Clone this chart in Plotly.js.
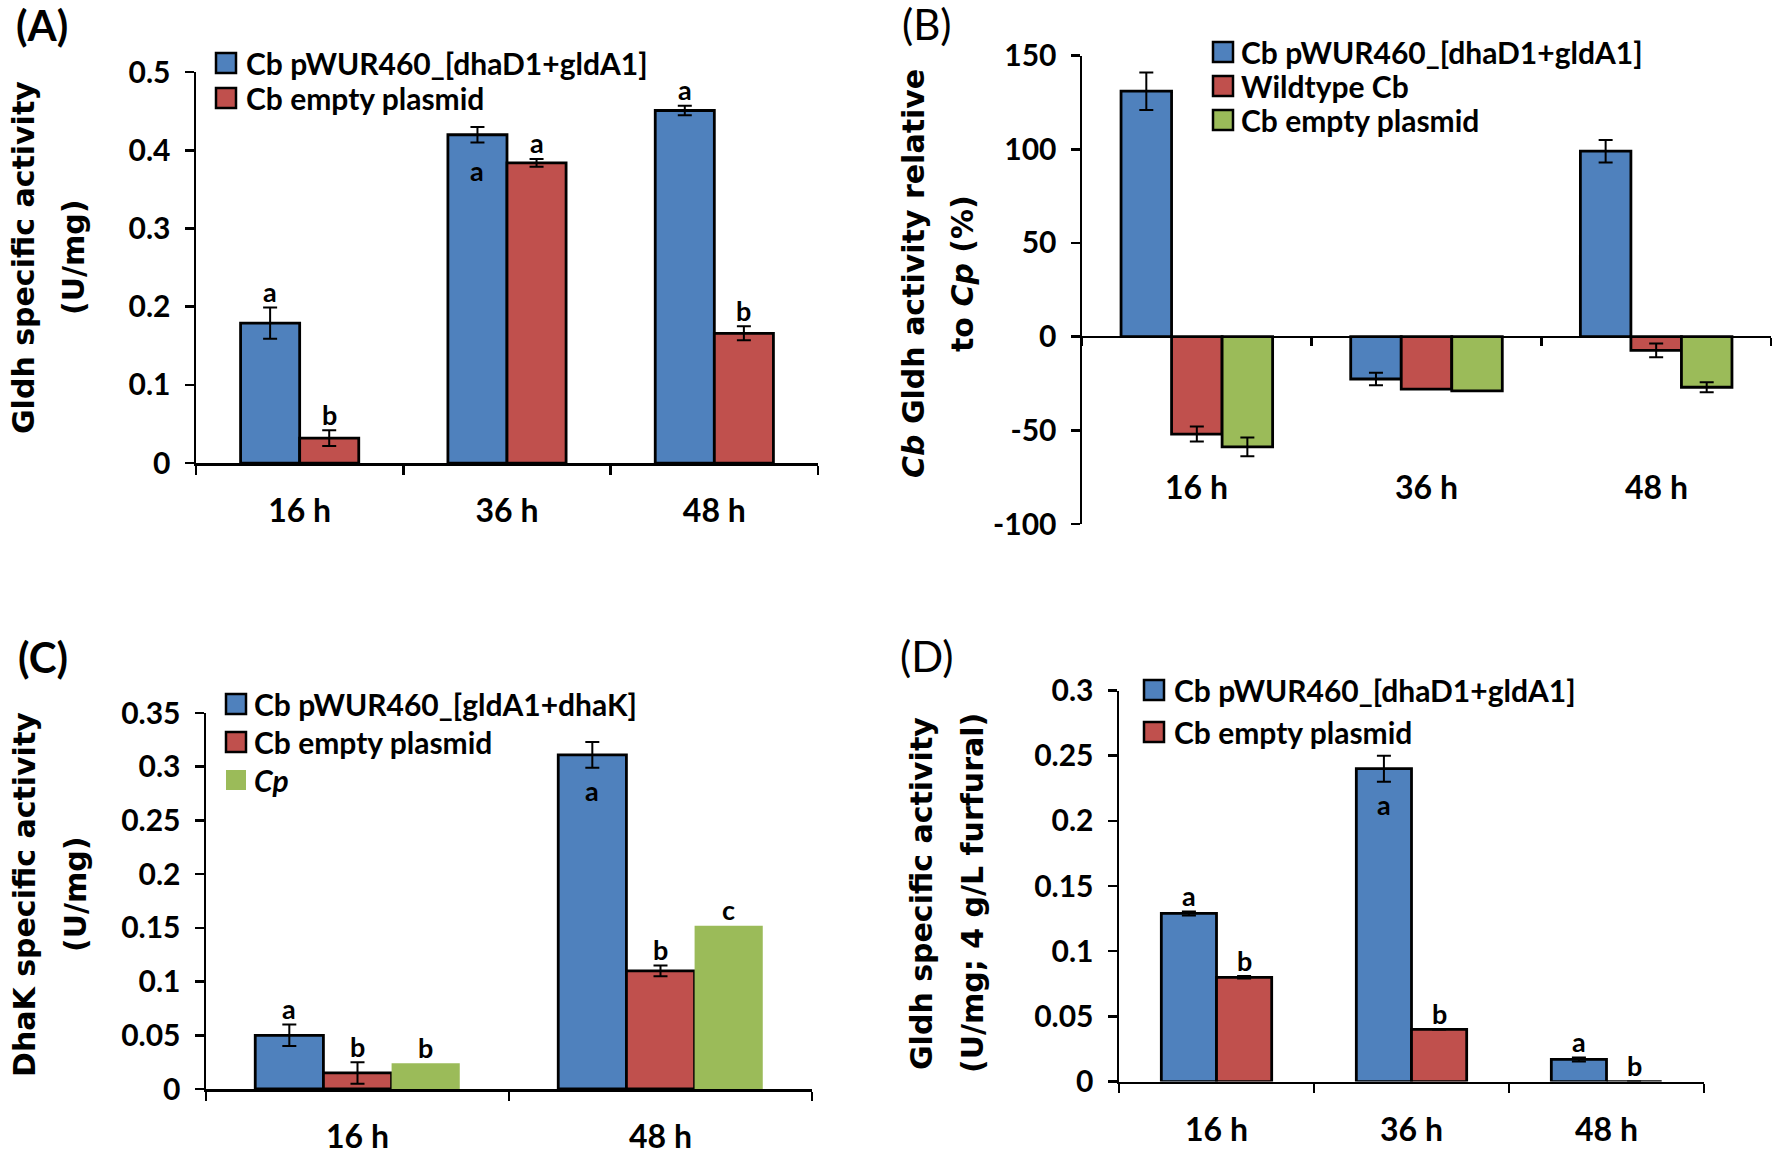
<!DOCTYPE html>
<html>
<head>
<meta charset="utf-8">
<script src="https://cdn.plot.ly/plotly-3.0.1.min.js"></script>
<style>
  body { margin: 0; background: #fff; }
  #chart { width: 1773px; height: 1157px; }
</style>
</head>
<body>
<div id="chart"></div>
<script>
// ---- data ----
// (A) Gldh specific activity
const catsA = ['16 h', '36 h', '48 h'];
const namesA = ['Cb pWUR460_[dhaD1+gldA1]', 'Cb empty plasmid'];
const valsA = [[0.179, 0.42, 0.451], [0.032, 0.384, 0.166]];
const errA = [[0.02, 0.01, 0.006], [0.01, 0.005, 0.009]];
const lettersA = [['a', 'a', 'a'], ['b', 'a', 'b']];
const insideA = [[false, true, false], [false, false, false]];
const tickValsA = [0, 0.1, 0.2, 0.3, 0.4, 0.5];
const tickTextA = ['0', '0.1', '0.2', '0.3', '0.4', '0.5'];

// (B) Cb Gldh activity relative to Cp
const catsB = ['16 h', '36 h', '48 h'];
const namesB = ['Cb pWUR460_[dhaD1+gldA1]', 'Wildtype Cb', 'Cb empty plasmid'];
const valsB = [[131, -22.6, 99], [-52, -28, -7.3], [-58.8, -29, -27]];
const errB = [[10, 3.3, 6], [4, 0, 3.7], [5, 0, 2.7]];
const tickValsB = [-100, -50, 0, 50, 100, 150];
const tickTextB = ['-100', '-50', '0', '50', '100', '150'];

// (C) DhaK specific activity
const catsC = ['16 h', '48 h'];
const namesC = ['Cb pWUR460_[gldA1+dhaK]', 'Cb empty plasmid', '<i>Cp</i>'];
const valsC = [[0.05, 0.311], [0.015, 0.11], [0.024, 0.152]];
const errC = [[0.01, 0.012], [0.01, 0.005], [0, 0]];
const lettersC = [['a', 'a'], ['b', 'b'], ['b', 'c']];
const insideC = [[false, true], [false, false], [false, false]];
const tickValsC = [0, 0.05, 0.1, 0.15, 0.2, 0.25, 0.3, 0.35];
const tickTextC = ['0', '0.05', '0.1', '0.15', '0.2', '0.25', '0.3', '0.35'];

// (D) Gldh specific activity with furfural
const catsD = ['16 h', '36 h', '48 h'];
const namesD = ['Cb pWUR460_[dhaD1+gldA1]', 'Cb empty plasmid'];
const valsD = [[0.129, 0.24, 0.017], [0.08, 0.04, 0]];
const errD = [[0.0015, 0.01, 0.0015], [0.001, 0, 0]];
const lettersD = [['a', 'a', 'a'], ['b', 'b', 'b']];
const insideD = [[false, true, false], [false, false, false]];
const tickValsD = [0, 0.05, 0.1, 0.15, 0.2, 0.25, 0.3];
const tickTextD = ['0', '0.05', '0.1', '0.15', '0.2', '0.25', '0.3'];

// ---- styling / layout ----
const W = 1773, H = 1157;
const fx = p => p / W;
const fy = p => 1 - p / H;
const BLUE = '#4F81BD', RED = '#C0504D', GREEN = '#9BBB59';
const FONT = 'Lato, "Open Sans", sans-serif';
const TFONT = '"DejaVu Sans", Verdana, sans-serif';

const panels = [
  {
    n: 1, tag: '(A)', tagBold: true, tagPos: [42, 25],
    cats: catsA, names: namesA, vals: valsA, err: errA, letters: lettersA, inside: insideA,
    colors: [BLUE, RED], outline: [true, true], errOn: [true, true],
    barW: 0.285, box: [196, 818, 72.2, 463.1], range: [0, 0.5],
    tickvals: tickValsA, ticktext: tickTextA,
    legend: { x: 216, y: 63, dy: 35, tx: 244 },
    titles: [['Gldh specific activity', 24], ['(U/mg)', 74]], titleY: 258
  },
  {
    n: 2, tag: '(B)', tagBold: false, tagPos: [927, 24],
    cats: catsB, names: namesB, vals: valsB, err: errB,
    colors: [BLUE, RED, GREEN], outline: [true, true, true], errOn: [true, true, true],
    barW: 0.22, box: [1082, 1771, 55.6, 524], range: [-100, 150],
    tickvals: tickValsB, ticktext: tickTextB, zeroAxis: true, catLabelY: 0.079,
    legend: { x: 1213, y: 52, dy: 34, tx: 1239 },
    titles: [['<i>Cb</i> Gldh activity relative', 913], ['to <i>Cp</i> (%)', 962]], titleY: 274
  },
  {
    n: 3, tag: '(C)', tagBold: true, tagPos: [43, 657],
    cats: catsC, names: namesC, vals: valsC, err: errC, letters: lettersC, inside: insideC,
    colors: [BLUE, RED, GREEN], outline: [true, true, false], errOn: [true, true, false],
    barW: 0.225, box: [206, 812, 713, 1089], range: [0, 0.35],
    tickvals: tickValsC, ticktext: tickTextC,
    legend: { x: 226, y: 704, dy: 38, tx: 252 },
    titles: [['DhaK specific activity', 24], ['(U/mg)', 75]], titleY: 895
  },
  {
    n: 4, tag: '(D)', tagBold: false, tagPos: [927, 656],
    cats: catsD, names: namesD, vals: valsD, err: errD, letters: lettersD, inside: insideD,
    colors: [BLUE, RED], outline: [true, true], errOn: [true, true],
    barW: 0.283, box: [1119, 1704, 690.5, 1081.6], range: [0, 0.3],
    tickvals: tickValsD, ticktext: tickTextD,
    legend: { x: 1144, y: 690, dy: 42, tx: 1172 },
    titles: [['Gldh specific activity', 921], ['(U/mg; 4 g/L furfural)', 972]], titleY: 893
  }
];

const traces = [];
const annotations = [];
const shapes = [];
const layout = {
  width: W, height: H,
  margin: { l: 0, r: 0, t: 0, b: 0 },
  paper_bgcolor: '#fff', plot_bgcolor: 'rgba(0,0,0,0)',
  barmode: 'overlay', showlegend: false, hovermode: false,
  font: { family: FONT, color: '#000' }
};

panels.forEach(p => {
  const xs = p.n === 1 ? '' : String(p.n);
  const xId = 'x' + xs, yId = 'y' + xs;
  const nSer = p.vals.length;
  const [x0, x1, yTop, yBot] = p.box;
  const yDom = [fy(yBot), fy(yTop)];

  p.vals.forEach((v, k) => {
    const off = -nSer * p.barW / 2 + k * p.barW;
    traces.push({
      type: 'bar', x: p.cats, y: v, name: p.names[k],
      xaxis: xId, yaxis: yId,
      width: p.barW, offset: off,
      marker: { color: p.colors[k], line: { color: '#000', width: p.outline[k] ? 2.8 : 0 } },
      error_y: { type: 'data', array: p.err[k], visible: p.errOn[k], color: '#000', thickness: 2, width: 7 }
    });
    if (p.letters) {
      v.forEach((val, i) => {
        const inside = p.inside[k][i];
        annotations.push({
          xref: xId, yref: yId,
          x: i + off + p.barW / 2,
          y: inside ? val : val + p.err[k][i],
          yshift: inside ? -36 : 16,
          text: p.letters[k][i], showarrow: false,
          xanchor: 'center', yanchor: 'middle',
          font: { family: FONT, size: 27, weight: 700, color: '#000' }
        });
      });
    }
  });

  const xAxis = {
    domain: [fx(x0), fx(x1)], type: 'category', range: [-0.5, p.cats.length - 0.5],
    showline: true, linecolor: '#000', linewidth: 2.5,
    ticks: 'outside', tickson: 'boundaries', ticklen: 9, tickwidth: 2.5, tickcolor: '#000',
    showgrid: false, zeroline: false, fixedrange: true,
    tickfont: { family: FONT, size: 32, weight: 700, color: '#000' },
    ticklabelstandoff: 18
  };
  if (p.zeroAxis) {
    const zf = (0 - p.range[0]) / (p.range[1] - p.range[0]);
    xAxis.anchor = 'free';
    xAxis.position = yDom[0] + zf * (yDom[1] - yDom[0]);
    xAxis.showticklabels = false;
    xAxis.ticklen = 8;
    p.cats.forEach(c => annotations.push({
      xref: xId, yref: yId + ' domain', x: c, y: p.catLabelY,
      text: c, showarrow: false, xanchor: 'center', yanchor: 'middle',
      font: { family: FONT, size: 32, weight: 700, color: '#000' }
    }));
  } else {
    xAxis.anchor = yId;
  }
  layout['xaxis' + xs] = xAxis;
  layout['yaxis' + xs] = {
    domain: yDom, anchor: xId, range: p.range,
    tickvals: p.tickvals, ticktext: p.ticktext,
    showline: true, linecolor: '#000', linewidth: 2.5,
    ticks: 'outside', ticklen: 9, tickwidth: 2.5, tickcolor: '#000',
    showgrid: false, zeroline: false, fixedrange: true,
    tickfont: { family: FONT, size: 30, weight: 700, color: '#000' },
    ticklabelstandoff: 8
  };

  // legend drawn by hand so the swatches match the reference size
  p.names.forEach((nm, k) => {
    const cy = p.legend.y + k * p.legend.dy;
    shapes.push({
      type: 'rect', xref: 'paper', yref: 'paper',
      x0: fx(p.legend.x), x1: fx(p.legend.x + 20), y0: fy(cy + 10), y1: fy(cy - 10),
      fillcolor: p.colors[k], line: { color: '#000', width: p.outline[k] ? 2.5 : 0 }
    });
    annotations.push({
      xref: 'paper', yref: 'paper', x: fx(p.legend.tx), y: fy(cy),
      text: nm, showarrow: false, xanchor: 'left', yanchor: 'middle',
      font: { family: FONT, size: 30, weight: 700, color: '#000' }
    });
  });

  // axis titles (two lines each)
  p.titles.forEach(([txt, cx]) => annotations.push({
    xref: 'paper', yref: 'paper', x: fx(cx), y: fy(p.titleY),
    text: txt, showarrow: false, textangle: -90, xanchor: 'center', yanchor: 'middle',
    font: { family: TFONT, size: 30, weight: 700, color: '#000' }
  }));

  // panel tag
  annotations.push({
    xref: 'paper', yref: 'paper', x: fx(p.tagPos[0]), y: fy(p.tagPos[1]),
    text: p.tag, showarrow: false, xanchor: 'center', yanchor: 'middle',
    font: { family: FONT, size: 42, weight: p.tagBold ? 700 : 400, color: '#000' }
  });
});

layout.annotations = annotations;
layout.shapes = shapes;

Plotly.newPlot('chart', traces, layout, { staticPlot: true, displayModeBar: false });
</script>
</body>
</html>
